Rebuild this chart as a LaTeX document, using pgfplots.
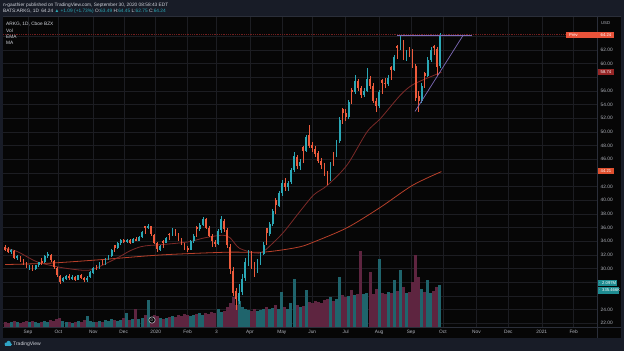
\documentclass[border=0pt]{standalone}
\usepackage{pgfplots}
\pgfplotsset{compat=1.18}
\usepackage{pgfplotstable}
\usepackage{fontspec}
\setmainfont{Liberation Sans}
\definecolor{navy}{HTML}{181C27}
\definecolor{pane}{HTML}{060606}
\definecolor{gridc}{HTML}{1C1D22}
\definecolor{divc}{HTML}{2A2E39}
\definecolor{upc}{HTML}{2BA8B6}
\definecolor{dnc}{HTML}{EE5B3C}
\definecolor{vup}{HTML}{1F646C}
\definecolor{vdn}{HTML}{5E2540}
\definecolor{emac}{HTML}{7C2A28}
\definecolor{mac}{HTML}{B8402A}
\definecolor{txt}{HTML}{B2B5BE}
\definecolor{ltxt}{HTML}{D1D4DC}
\definecolor{purp}{HTML}{7E6AB8}
\definecolor{pline}{HTML}{701E1E}
\definecolor{prevc}{HTML}{E8533A}
\definecolor{emabox}{HTML}{962626}
\definecolor{mabox}{HTML}{E0502F}
\definecolor{volbox}{HTML}{1E8C91}
\definecolor{tvc}{HTML}{2FA4C6}

\pgfplotstableread{
x o h l c v
-15 33.2 33.5 32.6 32.8 5
-13 32.9 33.2 32.3 32.5 4
-11 32.4 32.9 32.1 32.7 5
-9 32.6 32.8 31.4 31.6 6
-7 31.5 32.0 31.2 31.8 5
-5 31.7 31.9 30.9 31.1 4
-3 31.1 31.4 30.6 30.8 5
-1 30.7 31.0 30.1 30.3 6
1 30.2 30.6 29.8 30.4 5
3 30.3 30.5 29.7 29.9 6
5 29.9 30.6 29.8 30.5 5
7 30.5 31.0 30.3 30.9 4
9 31.1 31.5 30.6 30.9 5
11 30.9 32.0 30.8 31.8 6
13 31.8 32.4 31.6 32.2 5
15 32.0 32.1 31.0 31.2 7
17 31.1 31.3 30.0 30.2 6
19 30.1 30.3 28.8 29.0 8
21 28.9 29.1 27.8 28.1 9
23 28.2 28.8 28.0 28.6 6
25 28.5 29.1 28.3 28.9 5
27 28.9 29.2 28.4 28.6 5
29 28.6 29.0 28.3 28.8 4
31 28.8 28.9 28.2 28.4 5
33 28.4 29.1 28.3 29.0 6
35 29.0 29.2 28.5 28.7 5
37 28.7 28.8 28.0 28.3 7
39 28.3 28.9 28.1 28.7 11
41 28.8 29.7 28.6 29.5 6
43 29.4 30.3 29.2 30.1 5
45 30.2 30.5 29.8 30.0 5
47 30.0 30.9 29.9 30.8 6
49 30.9 31.2 30.5 30.7 5
51 30.7 31.5 30.6 31.3 7
53 31.4 32.0 31.2 31.8 6
55 31.8 32.9 31.7 32.8 8
57 33.4 33.5 32.5 33.0 7
59 33.0 33.9 32.9 33.7 6
61 33.7 34.4 33.5 34.2 7
63 34.2 34.4 33.7 33.9 9
65 33.9 34.4 33.8 34.2 14
67 34.2 34.3 33.6 33.8 7
69 33.8 34.5 33.7 34.3 8
71 34.3 34.6 34.0 34.1 18
73 34.1 34.8 34.0 34.6 8
75 34.6 35.5 34.5 35.3 9
77 36.2 36.3 35.1 35.9 12
79 35.9 36.6 35.8 36.3 27
81 36.2 36.3 34.8 35.0 10
83 34.9 35.1 33.6 33.8 12
85 33.7 33.9 32.4 32.9 11
87 32.8 33.5 32.6 33.3 9
89 34.1 34.2 33.0 33.8 8
91 33.8 34.7 33.7 34.5 9
93 35.1 35.2 34.2 34.9 10
95 34.9 35.9 34.8 35.6 11
97 35.6 35.8 34.8 35.0 10
99 35.0 35.2 34.1 34.3 12
101 34.3 34.5 33.4 33.6 11
103 33.6 33.8 32.8 33.0 13
105 33.0 33.3 32.4 32.7 12
107 32.8 34.2 32.7 34.0 11
109 34.0 35.0 33.8 34.8 12
111 36.1 36.3 34.6 35.8 13
113 35.8 36.7 35.5 36.4 14
115 36.4 37.6 36.2 37.3 12
117 37.2 37.4 35.8 36.0 14
119 36.0 36.2 34.6 34.8 13
121 34.8 35.0 33.2 34.0 15
123 33.9 34.2 33.1 33.6 14
125 33.6 35.8 33.4 35.5 18
127 35.6 37.7 35.2 37.2 15
129 37.0 37.3 35.4 35.8 16
131 35.6 35.9 33.0 33.5 20
133 33.2 33.6 29.2 30.0 24
135 29.6 30.2 26.0 26.5 30
137 26.8 27.2 24.0 25.5 22
139 25.2 27.8 24.8 26.5 26
141 26.6 29.2 26.2 28.5 20
143 28.6 31.6 28.2 31.0 18
145 31.0 32.8 30.4 32.5 17
147 32.3 32.6 30.0 30.5 16
149 30.6 31.0 28.8 29.5 18
151 29.6 31.4 29.3 31.0 16
153 31.0 32.5 30.6 32.2 17
155 32.2 33.9 32.0 33.5 18
157 35.9 36.0 33.4 35.2 20
159 35.0 36.9 34.8 36.5 18
161 36.6 38.8 36.3 38.5 19
163 40.0 40.3 38.0 39.3 22
165 39.2 41.3 39.0 41.0 18
167 41.0 43.0 40.6 42.5 35
169 42.6 43.2 41.4 42.0 20
171 42.0 42.9 41.3 42.6 18
173 42.7 44.8 42.4 44.5 24
175 44.5 47.1 44.2 46.5 48
177 46.4 46.7 44.6 45.0 22
179 45.0 46.0 44.5 45.6 20
181 47.8 48.0 45.4 47.2 21
183 47.2 49.6 47.0 49.3 37
185 49.5 51.0 47.6 48.0 25
187 48.1 48.6 47.0 47.6 24
189 47.5 48.0 46.3 46.8 26
191 46.9 47.2 45.4 45.8 25
193 45.7 46.2 44.6 45.2 24
195 45.1 45.4 43.6 44.0 27
197 44.0 44.3 42.2 43.0 28
199 43.1 45.6 42.8 45.3 30
201 46.9 47.0 45.0 46.4 26
203 46.4 48.9 46.3 48.6 28
205 48.7 52.2 48.4 51.8 50
207 53.4 53.5 51.2 52.8 32
209 52.8 53.4 51.6 52.2 30
211 52.2 54.7 51.9 54.4 31
213 56.2 56.4 54.1 55.8 37
215 55.8 58.3 55.6 57.4 32
217 57.4 57.8 56.0 56.5 33
219 56.5 56.8 55.0 55.4 76
221 55.4 56.4 55.1 56.0 33
223 56.0 59.4 55.8 57.8 34
225 57.8 58.2 56.3 56.8 55
227 56.8 57.1 54.2 54.6 33
229 54.6 55.0 52.9 53.8 38
231 53.8 56.2 53.5 55.8 68
233 57.6 57.8 55.5 57.2 34
235 57.2 57.9 56.5 57.0 33
237 57.0 58.3 56.7 57.9 35
239 59.5 59.6 57.6 59.1 34
241 59.1 61.3 59.0 61.0 47
243 62.6 62.8 60.7 62.3 36
245 62.3 64.2 62.0 63.3 57
247 63.0 63.4 60.6 61.2 40
249 61.2 62.0 60.4 61.6 34
251 62.3 62.4 61.0 62.0 35
253 61.8 62.1 59.4 59.8 45
255 59.6 59.9 54.6 55.0 72
257 55.2 56.0 52.9 54.5 50
259 54.5 57.2 54.2 56.8 38
261 58.7 58.8 56.4 58.2 35
263 58.2 61.0 58.0 60.6 47
265 60.6 62.5 60.3 62.0 34
267 62.6 62.8 61.2 62.3 36
269 62.2 62.5 58.2 59.5 40
271 59.6 64.45 59.4 64.24 42
}\candles

\newcommand{\tf}{\fontsize{4.8}{5.7}\selectfont}
\newcommand{\smf}{\fontsize{4.2}{5}\selectfont}

\begin{document}
\begin{tikzpicture}[x=1pt,y=1pt]
\fill[navy] (0,0) rectangle (624,351);
\fill[pane] (3,13) rectangle (621,335);
\begin{axis}[
  at={(3pt,24pt)}, anchor=south west, scale only axis,
  width=594pt, height=311pt,
  xmin=-16.45, xmax=374.34, ymin=21.46, ymax=66.976,
  axis line style={draw=none}, tick style={draw=none}, major tick length=0pt,
  xtick={0,20,43,63,84,105,124,146,167,187,209,231,252,273,295,316,338,359},
  xticklabels={Sep,Oct,Nov,Dec,2020,Feb,3,Apr,May,Jun,Jul,Aug,Sep,Oct,Nov,Dec,2021,Feb},
  ytick={22,24,...,64},
  yticklabels={22.00,24.00,,,30.00,32.00,34.00,36.00,38.00,40.00,42.00,,46.00,48.00,50.00,52.00,54.00,56.00,,60.00,62.00,},
  yticklabel pos=right,
  grid=major, major grid style={gridc, line width=0.5pt},
  xticklabel style={font=\tf, text=txt, inner sep=0pt, anchor=north, yshift=-3pt},
  yticklabel style={font=\tf, text=txt, inner sep=0pt, anchor=west, xshift=3.5pt},
]
% volume
\addplot[ycomb, vup, line width=3pt, mark=none, restrict expr to domain={\thisrow{c}-\thisrow{o}}{0:100}]
  table[x=x, y expr={21.46+\thisrow{v}/6.8325}] {\candles};
\addplot[ycomb, vdn, line width=3pt, mark=none, restrict expr to domain={\thisrow{c}-\thisrow{o}}{-100:-0.0001}]
  table[x=x, y expr={21.46+\thisrow{v}/6.8325}] {\candles};
% price line
\addplot[pline, line width=0.6pt, dash pattern=on 1pt off 0.8pt] coordinates {(-16.45,64.24) (374.34,64.24)};
% MA
\addplot[mac, line width=0.8pt, smooth] coordinates {(-15,30.6) (14,30.8) (47,31.3) (87,32.0) (130,32.4) (153,32.4) (166,32.7) (179,33.2) (188,33.9) (210,36.0) (232,39.0) (253,42.2) (272,44.2)};
% EMA
\addplot[emac, line width=0.8pt, smooth] coordinates {(-15,33.0) (-7,32.5) (6,31.0) (21,30.2) (34,29.8) (41,29.8) (47,30.3) (59,31.6) (67,32.6) (74,33.2) (80,33.4) (87,33.5) (105,33.9) (116,34.5) (128,34.9) (133,34.5) (139,33.0) (149,32.3) (154,32.4) (159,33.3) (168,35.3) (179,38.4) (188,40.8) (197,42.2) (210,45.2) (223,50.0) (232,52.0) (245,55.4) (253,56.9) (265,58.1) (272,58.74)};
% wicks
\addplot[draw=none, mark=none, restrict expr to domain={\thisrow{c}-\thisrow{o}}{0:100},
  error bars/.cd, y dir=both, y explicit, error mark=none,
  error bar style={draw=upc, line width=0.6pt}]
  table[x=x, y expr={(\thisrow{h}+\thisrow{l})/2}, y error expr={(\thisrow{h}-\thisrow{l})/2}] {\candles};
\addplot[draw=none, mark=none, restrict expr to domain={\thisrow{c}-\thisrow{o}}{-100:-0.0001},
  error bars/.cd, y dir=both, y explicit, error mark=none,
  error bar style={draw=dnc, line width=0.6pt}]
  table[x=x, y expr={(\thisrow{h}+\thisrow{l})/2}, y error expr={(\thisrow{h}-\thisrow{l})/2}] {\candles};
% bodies
\addplot[draw=none, mark=none, restrict expr to domain={\thisrow{c}-\thisrow{o}}{0:100},
  error bars/.cd, y dir=both, y explicit, error mark=none,
  error bar style={draw=upc, line width=1.8pt}]
  table[x=x, y expr={(\thisrow{o}+\thisrow{c})/2}, y error expr={max(abs(\thisrow{c}-\thisrow{o})/2,0.06)}] {\candles};
\addplot[draw=none, mark=none, restrict expr to domain={\thisrow{c}-\thisrow{o}}{-100:-0.0001},
  error bars/.cd, y dir=both, y explicit, error mark=none,
  error bar style={draw=dnc, line width=1.8pt}]
  table[x=x, y expr={(\thisrow{o}+\thisrow{c})/2}, y error expr={max(abs(\thisrow{c}-\thisrow{o})/2,0.06)}] {\candles};
% drawings
\addplot[purp, line width=0.7pt] coordinates {(242.8,64.2) (292,64.2)};
\addplot[purp, line width=0.7pt] coordinates {(254.6,53.0) (286.4,64.2)};
\end{axis}
% dividers
\draw[divc, line width=0.6pt] (3,24) -- (621,24);
\draw[divc, line width=0.6pt] (597,13) -- (597,335);
\draw[divc, line width=0.5pt] (3,335) -- (621,335);
% header
\node[anchor=west, inner sep=0pt, font=\tf, text=ltxt] at (3,346) {n-gauthier published on TradingView.com, September 30, 2020 08:58:43 EDT};
\node[anchor=west, inner sep=0pt, font=\tf, text=ltxt] at (3,340) {BATS:ARKG, 1D\, 64.24 \textcolor{upc}{▲ +1.09 (+1.73\%)} O:\textcolor{upc}{63.49} H:\textcolor{upc}{64.45} L:\textcolor{upc}{62.75} C:\textcolor{upc}{64.24}};
% pane legend
\node[anchor=west, inner sep=0pt, font=\tf, text=ltxt] at (6,327) {ARKG, 1D, Cboe BZX};
\node[anchor=west, inner sep=0pt, font=\tf, text=ltxt] at (6,320.5) {Vol};
\node[anchor=west, inner sep=0pt, font=\tf, text=ltxt] at (6,314.5) {EMA};
\node[anchor=west, inner sep=0pt, font=\tf, text=ltxt] at (6,308.5) {MA};
% right labels
\node[anchor=west, inner sep=0pt, font=\smf, text=txt] at (601,328) {USD};
\fill[prevc] (566,313) rectangle (614,319);
\node[anchor=west, inner sep=0pt, font=\smf, text=white] at (569,316) {Prev};
\node[anchor=west, inner sep=0pt, font=\smf, text=white] at (600.5,316) {64.24};
\fill[emabox] (598,276) rectangle (614,281.5);
\node[anchor=west, inner sep=0pt, font=\smf, text=white] at (600.5,278.75) {58.74};
\fill[mabox] (598,176.5) rectangle (614,182.5);
\node[anchor=west, inner sep=0pt, font=\smf, text=white] at (600.5,179.5) {44.21};
\fill[volbox] (597.5,64.5) rectangle (617,70.5);
\node[anchor=west, inner sep=0pt, font=\smf, text=white] at (598.5,67.5) {$\cdot$ 2.097M};
\fill[volbox] (597.5,57.5) rectangle (619,63.5);
\node[anchor=west, inner sep=0pt, font=\smf, text=white] at (598.5,60.5) {$\cdot$ 335.466K};
% dividend marker
\draw[txt, fill=pane, line width=0.6pt] (152,31) circle (3.2);
\node[inner sep=0pt, font=\fontsize{3.6}{4}\selectfont, text=txt] at (152,31) {D};
% TradingView logo
\fill[tvc] (4.5,5) rectangle (11,7.2);
\fill[tvc] (6,7) circle (1.6);
\fill[tvc] (8.6,8) circle (2.2);
\fill[tvc] (10.6,6.6) circle (1.4);
\node[anchor=west, inner sep=0pt, font=\fontsize{5}{6}\selectfont, text=ltxt] at (13,7) {TradingView};
\end{tikzpicture}
\end{document}
